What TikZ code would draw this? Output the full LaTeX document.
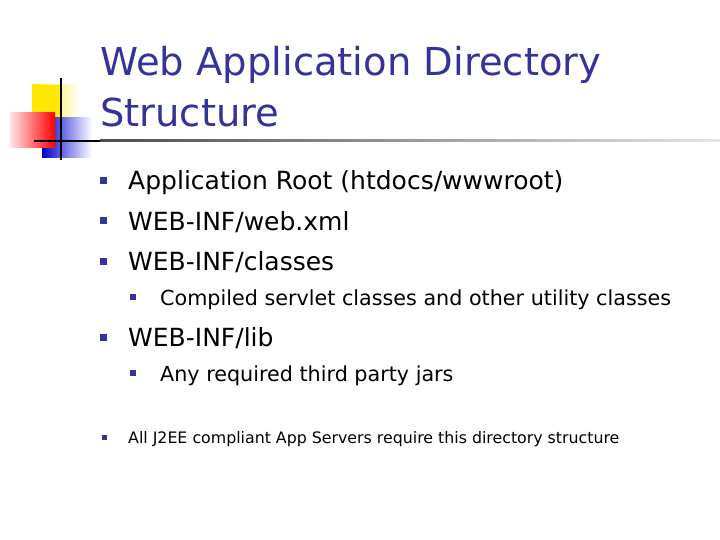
\documentclass[tikz,border=0pt]{standalone}
\usepackage{fontspec}
\setmainfont{DejaVu Sans}
\definecolor{navy}{HTML}{333399}
\begin{document}
\begin{tikzpicture}[x=1pt,y=-1pt,
  bul/.style={fill=navy,minimum size=#1,inner sep=0pt},
  txt/.style={anchor=base west,inner sep=0pt}]
\useasboundingbox (0,0) rectangle (720,540);
\fill[white] (0,0) rectangle (720,540);
% logo
\fill[left color=yellow!80!orange,right color=white] (32,85) rectangle (80,118);
\fill[yellow!90!orange] (32,85) rectangle (62,118);
\fill[left color=blue!80!black,right color=white] (42,118) rectangle (92,158);
\fill[left color=red!10,right color=red] (10,113) rectangle (55,148);
\draw[line width=2pt] (61,78) -- (61,160);
\draw[line width=2pt] (34,141) -- (100,141);
\shade[left color=black!70,right color=black!10] (100,140) rectangle (720,142);
% title
\node[txt,text=navy,font=\fontsize{38.5}{42}\selectfont] (t1) at (100,76) {Web Application Directory};
\node[txt,text=navy,font=\fontsize{38.5}{42}\selectfont] (t2) at (100,127) {Structure};
% bullets
\foreach \y/\n in {181/b1,221/b2,261/b3,337/b4}{\node[bul=7pt] (\n) at (103,\y) {};}
\foreach \y/\n in {297/s1,373/s2}{\node[bul=6pt] (\n) at (133,\y) {};}
\node[bul=5pt] (b5) at (104,437) {};
\node[txt,font=\fontsize{25}{28}\selectfont] (l1) at (128,190) {Application Root (htdocs/wwwroot)};
\node[txt,font=\fontsize{25}{28}\selectfont] (l2) at (128,230) {WEB-INF/web.xml};
\node[txt,font=\fontsize{25}{28}\selectfont] (l3) at (128,270) {WEB-INF/classes};
\node[txt,font=\fontsize{20.7}{24}\selectfont] (l4) at (160,305) {Compiled servlet classes and other utility classes};
\node[txt,font=\fontsize{25}{28}\selectfont] (l5) at (128,346) {WEB-INF/lib};
\node[txt,font=\fontsize{20.7}{24}\selectfont] (l6) at (160,381) {Any required third party jars};
\node[txt,font=\fontsize{15.8}{18}\selectfont] (l7) at (128,443) {All J2EE compliant App Servers require this directory structure};
\end{tikzpicture}
\end{document}
